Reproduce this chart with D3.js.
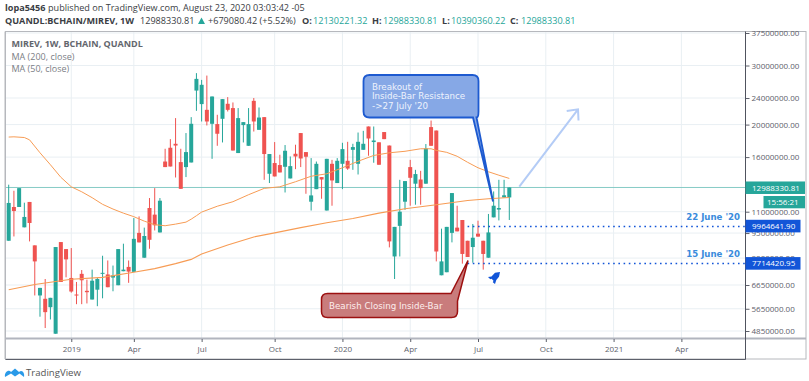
<!DOCTYPE html>
<html><head><meta charset="utf-8">
<script src="https://cdn.jsdelivr.net/npm/d3@7/dist/d3.min.js"></script>
<style>html,body{margin:0;padding:0;background:#fff;overflow:hidden}svg{display:block}</style>
</head><body><svg id="c" width="809" height="381"></svg>
<script>
const firstWeek = "2018-10-15";
const openM = [9.01,11.36,11.36,9.88,11.76,8.73,6.19,6.05,5.71,4.76,
8.93,8.51,6.98,6.23,7.18,6.39,6.02,6.44,7.18,7.15,
7.00,6.64,7.31,7.53,7.28,9.51,8.02,11.28,10.78,9.54,
15.52,17.06,17.53,15.46,14.94,15.42,25.26,23.02,22.13,20.11,
20.07,20.81,23.07,22.40,16.45,19.93,17.29,23.54,19.29,21.05,
14.27,15.36,15.15,14.97,13.82,16.37,18.87,16.56,11.78,12.84,
13.95,11.09,15.28,13.39,15.28,15.60,16.82,15.28,16.82,19.74,
17.74,17.71,19.00,17.32,8.09,9.98,11.78,14.94,13.33,13.72,
13.33,19.66,19.20,7.11,7.26,9.51,9.86,10.39,9.01,8.63,
9.46,9.01,8.02,10.58,11.16,12.13,12.13];
const highM = [13.24,12.70,12.93,11.70,11.76,8.73,6.52,6.93,6.09,8.63,
8.93,8.51,8.57,6.79,7.37,6.90,7.39,6.98,8.13,7.87,
7.60,8.51,8.83,7.87,10.53,10.65,9.86,12.08,12.93,12.08,
16.94,18.10,20.91,16.94,18.87,21.05,28.47,27.18,28.00,24.25,
21.39,23.82,24.15,23.28,22.40,20.34,22.40,24.00,22.49,21.05,
16.34,17.74,16.26,17.38,16.07,17.42,18.87,16.56,15.89,15.52,
13.95,15.81,15.70,15.89,17.65,17.77,17.53,18.94,19.16,19.74,
19.74,17.71,19.00,17.32,9.91,13.69,13.57,15.70,14.66,14.56,
17.50,20.56,19.20,9.79,9.91,12.50,11.46,10.39,9.01,10.11,
10.34,9.01,10.83,12.64,13.69,13.69,12.99];
const lowM = [9.01,9.28,11.36,9.88,8.97,6.19,5.35,4.95,5.25,4.76,
6.79,7.01,6.31,5.83,5.83,5.86,6.02,5.75,6.07,6.55,
6.37,6.64,7.31,6.75,7.28,8.91,8.02,8.53,9.67,9.54,
14.94,15.00,13.91,12.87,13.95,15.42,21.98,20.43,19.88,15.81,
17.29,17.69,21.88,16.74,16.45,17.69,17.29,19.07,19.29,13.69,
13.39,14.01,14.40,12.55,13.82,14.73,14.94,12.44,11.09,12.84,
12.02,11.09,11.46,13.39,12.84,14.66,14.66,14.20,16.82,16.15,
15.39,15.18,18.10,8.61,6.93,8.09,11.14,11.46,11.54,11.54,
13.33,17.29,7.82,7.11,7.26,8.91,9.61,7.70,8.06,7.75,
9.27,7.39,8.02,10.58,10.36,12.13,10.39];
const closeM = [11.68,11.05,12.93,10.61,10.18,7.82,6.52,5.52,6.09,8.63,
6.79,7.93,6.36,6.19,6.87,6.33,6.85,6.93,7.23,6.55,
7.10,8.51,7.39,7.29,9.13,8.91,9.31,9.07,10.02,11.86,
14.94,15.00,17.32,12.87,16.56,20.11,27.37,26.28,20.43,24.25,
18.78,23.82,22.13,16.74,20.91,20.34,20.07,20.43,20.99,16.34,
16.34,14.01,14.40,16.71,15.04,16.07,15.85,16.04,12.30,15.28,
13.72,15.81,13.63,15.60,16.90,14.79,17.14,17.77,17.53,18.18,
17.93,15.18,18.10,8.97,9.91,11.00,13.57,13.88,14.24,12.93,
16.97,17.29,8.37,7.82,9.91,12.50,9.61,8.23,8.06,9.20,
9.27,8.23,9.54,11.46,11.28,12.31,12.99];

const ma50Weeks = [0,1,3,4,6,8,10,12,14,16,18,20,22,24,26,28,30,32,34,35,36,37,40,43,46,49,52,55,58,61,64,67,70,73,76,79,81,82,84,86,88,90,92,94,96];
const ma50M = [18.36,18.39,18.30,18.01,16.48,15.18,13.93,13.05,12.61,12.11,11.57,11.20,10.89,10.63,10.31,10.06,9.99,10.10,10.24,10.45,10.70,10.97,11.42,11.78,12.36,12.91,13.05,13.51,14.03,14.27,14.87,15.55,16.18,16.48,16.65,16.94,16.94,16.76,16.53,16.09,15.44,14.87,14.47,14.13,13.82];
const ma200Weeks = [0,5,12,18,24,28,32,35,37,42,47,51,56,61,66,71,76,82,88,92,96];
const ma200M = [6.44,6.67,6.92,7.01,7.26,7.44,7.70,7.93,8.23,8.75,9.25,9.51,9.86,10.19,10.50,10.89,11.22,11.54,11.88,12.02,12.13];

const priceTicks = [37500000,30000000,24000000,20000000,16000000,13000000,11000000,9500000,8000000,6650000,5650000,4850000];
const timeTickDates = ["2019-01-07","2019-04-01","2019-07-01","2019-10-07","2020-01-06","2020-04-06","2020-07-06","2020-10-05","2021-01-04","2021-04-05"];
const timeTickLabels = ["2019","Apr","Jul","Oct","2020","Apr","Jul","Oct","2021","Apr"];
const lastPrice = 12988330.81, countdown = "15:56:21";
const level22 = 9964641.90, level15 = 7714420.95;
const level22Week = 88, level15Week = 88;
const level22Label = "22 June '20", level15Label = "15 June '20";
const legendLines = ["MIREV, 1W, BCHAIN, QUANDL","MA (200, close)","MA (50, close)"];
const blueNote = ["Breakout of","Inside-Bar Resistance","->27 July '20"];
const redNote = "Bearish Closing Inside-Bar";

const GREEN="#26a69a", RED="#ef5350", GRID="#e9eff3", BLUE="#1255d8", FONT="'Open Sans',sans-serif";
const svg=d3.select("#c");
const L=5.5,T=31.5,R=745.5,B=338.5,FR=806;
const parse=d3.utcParse("%Y-%m-%d");
const x=d3.scaleUtc().domain([parse(firstWeek),d3.utcWeek.offset(parse(firstWeek),96)]).range([8.7,509.3]);
const wk=i=>x(d3.utcWeek.offset(parse(firstWeek),i));
const y=d3.scaleLog().domain([37500000,4850000]).range([33,331]);
const snap=v=>Math.round(v)+.5;
const M=v=>v*1e6;

svg.append("defs").append("clipPath").attr("id","pane").append("rect").attr("x",L).attr("y",T).attr("width",R-L).attr("height",B-T);
const pane=svg.append("g").attr("clip-path","url(#pane)");

// grid
pane.selectAll(".h").data(priceTicks).join("line").attr("x1",L).attr("x2",R).attr("y1",d=>y(d)).attr("y2",d=>y(d)).attr("stroke",GRID).attr("stroke-width",1);
const tDates=timeTickDates.map(parse);
pane.selectAll(".v").data(tDates).join("line").attr("x1",d=>x(d)).attr("x2",d=>x(d)).attr("y1",T).attr("y2",B).attr("stroke",GRID).attr("stroke-width",1);

// last price line
pane.append("line").attr("x1",L).attr("x2",R).attr("y1",snap(y(lastPrice))).attr("y2",snap(y(lastPrice))).attr("stroke",GREEN).attr("stroke-width",1).attr("stroke-dasharray","1 1");

// candles
const candles=d3.range(openM.length).map(i=>({i,o:M(openM[i]),h:M(highM[i]),l:M(lowM[i]),c:M(closeM[i])}));
const cg=pane.selectAll(".candle").data(candles).join("g");
const col=d=>d.c>=d.o?GREEN:RED;
cg.append("line").attr("x1",d=>wk(d.i)).attr("x2",d=>wk(d.i)).attr("y1",d=>y(d.h)).attr("y2",d=>y(d.l)).attr("stroke",col).attr("stroke-width",1);
cg.append("rect").attr("x",d=>wk(d.i)-2).attr("width",4).attr("y",d=>y(Math.max(d.o,d.c))).attr("height",d=>Math.max(1,Math.abs(y(d.o)-y(d.c)))).attr("fill",col);

// MAs
const ln=d3.line().x(d=>wk(d[0])).y(d=>y(M(d[1])));
pane.append("path").attr("d",ln(d3.zip(ma50Weeks,ma50M))).attr("fill","none").attr("stroke","#f79c55").attr("stroke-width",1);
pane.append("path").attr("d",ln(d3.zip(ma200Weeks,ma200M))).attr("fill","none").attr("stroke","#f79c55").attr("stroke-width",1.1);

// levels
[[level22,level22Week,level22Label],[level15,level15Week,level15Label]].forEach(([v,w,lab])=>{
  pane.append("line").attr("x1",wk(w)).attr("x2",R).attr("y1",snap(y(v))).attr("y2",snap(y(v))).attr("stroke",BLUE).attr("stroke-width",1.4).attr("stroke-dasharray","1.6 3.6");
  svg.append("text").attr("x",740).attr("y",y(v)-6).attr("text-anchor","end").attr("font-family","'DejaVu Sans',sans-serif").attr("font-weight","bold").attr("font-size",8.6).attr("fill","#3a8bdc").text(lab);
});

// blue arrow
const ag=svg.append("g").attr("fill","none").attr("stroke","#b4ccf6").attr("stroke-width",2);
ag.append("path").attr("d","M519.3,186.7L578,109.3M566.7,111L578,109.3L578.5,120.5");

// callouts
svg.append("path").attr("d","M369.5,75H472.5Q478.5,75 478.5,81V111.5Q478.5,117.5 476.5,117.5L493,201.5L473,117.5H369.5Q363.5,117.5 363.5,111.5V81Q363.5,75 369.5,75Z")
  .attr("fill","#86a8e6").attr("stroke","#1d5ad0").attr("stroke-width",1.8);
const bt=svg.append("text").attr("font-family","'DejaVu Sans',sans-serif").attr("font-size",8.7).attr("fill","#eef3fd");
blueNote.forEach((s,i)=>bt.append("tspan").attr("x",372).attr("y",90+i*9.3).text(s));
svg.append("path").attr("d","M327.5,293.5H451L468,260.5L457.5,301V311.5Q457.5,317.5 451.5,317.5H327.5Q321.5,317.5 321.5,311.5V299.5Q321.5,293.5 327.5,293.5Z")
  .attr("fill","#c97c7c").attr("stroke","#9c1010").attr("stroke-width",1.5);
svg.append("text").attr("x",329).attr("y",308.5).attr("font-family","'DejaVu Sans',sans-serif").attr("font-size",8.7).attr("fill","#fdeeee").text(redNote);

// rocket
svg.append("path").attr("d","M500,272L495,272.8L491.5,276.5L488,277L490.3,279.3L491.6,278.7L493.5,280.8L492.8,282.2L495,284L496.3,280L499,276.8Z").attr("fill",BLUE);

// frame
svg.append("rect").attr("x",L).attr("y",T).attr("width",FR-L).attr("height",359-T).attr("fill","none").attr("stroke","#b6b8bd").attr("stroke-width",1);
svg.append("line").attr("x1",L-.5).attr("x2",L-.5).attr("y1",T).attr("y2",359).attr("stroke","#b6b8bd");
svg.append("line").attr("x1",L).attr("x2",FR).attr("y1",338.5).attr("y2",338.5).attr("stroke","#b2b5be").attr("stroke-width",2);
svg.append("line").attr("x1",L).attr("x2",R).attr("y1",359.5).attr("y2",359.5).attr("stroke","#5d606b");

// axes
const yAxis=d3.axisRight(y).tickValues(priceTicks).tickFormat(d3.format(".2f")).tickSize(4).tickPadding(2);
const ya=svg.append("g").attr("transform",`translate(${R},0)`).call(yAxis);
ya.select(".domain").remove();
ya.selectAll("line").attr("stroke","#5d606b");
ya.selectAll("text").attr("font-family",FONT).attr("font-size",8).attr("fill","#5d606b");
svg.append("line").attr("x1",R).attr("x2",R).attr("y1",T).attr("y2",359.5).attr("stroke","#50535e").attr("stroke-width",1);
const xAxis=d3.axisBottom(x).tickValues(tDates).tickFormat((d,i)=>timeTickLabels[i]).tickSize(3).tickPadding(4);
const xa=svg.append("g").attr("transform","translate(0,339)").call(xAxis);
xa.select(".domain").remove();
xa.selectAll("line").attr("stroke","#5d606b");
xa.selectAll("text").attr("font-family",FONT).attr("font-size",8).attr("fill","#5d606b");

// price tags
function tag(x0,w,y0,h,fill,txt,tx){
  svg.append("rect").attr("x",x0).attr("y",y0).attr("width",w).attr("height",h).attr("fill",fill);
  svg.append("text").attr("x",tx).attr("y",y0+h/2+3).attr("font-family",FONT).attr("font-size",8).attr("fill","#fff").text(txt);
}
tag(R,59.5,y(lastPrice)-6,12.5,GREEN,d3.format(".2f")(lastPrice),752);
tag(763.5,41.5,196,12.3,GREEN,countdown,767);
tag(R,55,y(level22)-6.3,12.6,BLUE,d3.format(".2f")(level22),752);
tag(R,55,y(level15)-6.3,12.6,BLUE,d3.format(".2f")(level15),752);

// legend
legendLines.forEach((s,i)=>svg.append("text").attr("x",11.5).attr("y",47+i*12.7).attr("font-family",FONT).attr("font-size",9).attr("font-weight",i?400:700).attr("fill",i?"#7b7e85":"#63666d").text(s));

// header
const hf=(xp,yp,s,o={})=>svg.append("text").attr("x",xp).attr("y",yp).attr("font-family",FONT).attr("font-size",o.size||9.1).attr("font-weight",o.bold?700:400).attr("fill",o.fill||"#3a3d44").text(s);
hf(5,11,"lopa5456",{bold:true});
hf(48,11,"published on TradingView.com, August 23, 2020 03:03:42 -05");
hf(5,23.5,"QUANDL:BCHAIN/MIREV, 1W",{bold:true});
hf(140,23.5,"12988330.81");
svg.append("path").attr("d","M198,24L201.5,17.5L205,24Z").attr("fill",GREEN);
hf(208,23.5,"+679080.42 (+5.52%)");
[["O:",302,"12130221.32",313],["H:",372,"12988330.81",383],["L:",442,"10390360.22",451],["C:",510,"12988330.81",521]].forEach(([k,a,v,b])=>{
  hf(a,23.5,k,{bold:true}); hf(b,23.5,v,{fill:GREEN});
});

// footer
svg.append("path").attr("d","M5,377C4,372 9,369 11,372L15,368.5L19,372C22,369 25,373 24,377L19.5,373.5L15,376.5L11,373.5Z").attr("fill","#2a9ae8");
svg.append("text").attr("x",26).attr("y",376).attr("font-family",FONT).attr("font-size",9.6).attr("fill","#555").text("TradingView");
</script></body></html>
